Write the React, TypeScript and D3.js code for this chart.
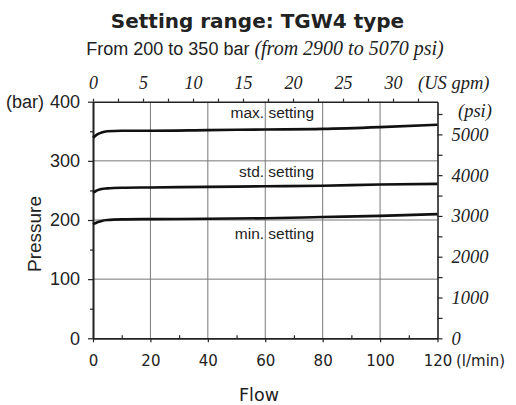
import React, { useEffect, useRef } from "react";
import * as d3 from "d3";

// flow in l/min, pressure in bar
const flow = [0, 1, 2, 3, 5, 10, 20, 40, 60, 80, 100, 120];
const maxSetting = [339, 343, 346, 348, 350, 351, 351, 352, 353, 354, 357, 361];
const stdSetting = [246, 249, 251, 252.5, 253.5, 254.5, 255, 256, 257, 258, 260, 261];
const minSetting = [193, 195, 197, 198.5, 200, 201, 201.5, 202, 203, 205, 207, 210];

const seriesNames = ["max. setting", "std. setting", "min. setting"];
const seriesValues = [maxSetting, stdSetting, minSetting];
// where the curve labels sit (flow, bar)
const labelAt = [
  [77, 372],
  [77, 272],
  [77, 168],
];

const barTicks = [0, 100, 200, 300, 400];
const barMinor = [50, 150, 250, 350];
const flowTicks = [0, 20, 40, 60, 80, 100, 120];
const flowMinor = [10, 30, 50, 70, 90, 110];
const gpmTicks = d3.range(0, 34, 2.5);
const psiTicks = d3.range(0, 5501, 500);

const BAR_TO_PSI = 14.5038;
const GPM_MAX = 34.45;

const SANS = "'Liberation Sans', Arial, sans-serif";
const VERD = "'DejaVu Sans', Verdana, sans-serif";
const SERIF = "'Liberation Serif', 'Times New Roman', serif";

const App = () => {
  const ref = useRef(null);

  useEffect(() => {
    const svg = d3.select(ref.current);
    svg.selectAll("*").remove();

    const x = d3.scaleLinear().domain([0, 120]).range([93, 437.5]);
    const y = d3.scaleLinear().domain([0, 400]).range([338.3, 101.7]);
    const gpm = d3.scaleLinear().domain([0, GPM_MAX]).range([93, 437.5]);
    const psi = d3.scaleLinear().domain([0, 400 * BAR_TO_PSI]).range([338.3, 101.7]);

    // grid
    const grid = svg.append("g").attr("stroke", "#777").attr("stroke-width", 1);
    grid
      .selectAll("line.v")
      .data(flowTicks.slice(1, -1))
      .enter()
      .append("line")
      .attr("x1", (d) => x(d))
      .attr("x2", (d) => x(d))
      .attr("y1", y(0))
      .attr("y2", y(400));
    grid
      .selectAll("line.h")
      .data(barTicks.slice(1, -1))
      .enter()
      .append("line")
      .attr("class", "h")
      .attr("x1", x(0))
      .attr("x2", x(120))
      .attr("y1", (d) => y(d))
      .attr("y2", (d) => y(d));

    const styleAxis = (g, font, size, italic) => {
      g.select(".domain").attr("stroke", "#222").attr("stroke-width", 1.6);
      g.selectAll(".tick line").attr("stroke", "#222").attr("stroke-width", 1.2);
      g.selectAll("text")
        .attr("fill", "#222")
        .style("font-family", font)
        .style("font-size", size + "px")
        .style("font-style", italic ? "italic" : "normal");
    };

    // left axis (bar)
    svg
      .append("g")
      .attr("transform", `translate(${x(0)},0)`)
      .call(d3.axisLeft(y).tickValues(barMinor).tickSize(3).tickSizeOuter(0).tickFormat(() => ""))
      .call((g) => styleAxis(g, SANS, 18, false));
    svg
      .append("g")
      .attr("transform", `translate(${x(0)},0)`)
      .call(d3.axisLeft(y).tickValues(barTicks).tickSize(5).tickSizeOuter(0).tickPadding(8))
      .call((g) => styleAxis(g, SANS, 18, false));

    // bottom axis (l/min)
    svg
      .append("g")
      .attr("transform", `translate(0,${y(0)})`)
      .call(d3.axisBottom(x).tickValues(flowMinor).tickSize(-3).tickSizeOuter(0).tickFormat(() => ""))
      .call((g) => styleAxis(g, VERD, 15, false));
    svg
      .append("g")
      .attr("transform", `translate(0,${y(0)})`)
      .call(d3.axisBottom(x).tickValues(flowTicks).tickSize(4).tickSizeOuter(0).tickPadding(13))
      .call((g) => styleAxis(g, VERD, 15, false));

    // top axis (US gpm)
    svg
      .append("g")
      .attr("transform", `translate(0,${y(400)})`)
      .call(
        d3
          .axisTop(gpm)
          .tickValues(gpmTicks)
          .tickSize(3)
          .tickSizeOuter(0)
          .tickPadding(9.7)
          .tickFormat((d) => (d % 5 === 0 && d <= 30 ? String(d) : ""))
      )
      .call((g) => styleAxis(g, SERIF, 18, true));

    // right axis (psi)
    svg
      .append("g")
      .attr("transform", `translate(${x(120)},0)`)
      .call(
        d3
          .axisRight(psi)
          .tickValues(psiTicks)
          .tickSize(5)
          .tickSizeOuter(0)
          .tickPadding(9)
          .tickFormat((d) => (d % 1000 === 0 ? String(d) : ""))
      )
      .call((g) => styleAxis(g, SERIF, 18.5, true));

    // curves
    const line = d3
      .line()
      .x((d) => x(d[0]))
      .y((d) => y(d[1]))
      .curve(d3.curveMonotoneX);
    svg
      .selectAll("path.curve")
      .data(seriesValues)
      .enter()
      .append("path")
      .attr("class", "curve")
      .attr("d", (vals) => line(vals.map((v, i) => [flow[i], v])))
      .attr("fill", "none")
      .attr("stroke", "#111")
      .attr("stroke-width", 2.6);

    svg
      .selectAll("text.lbl")
      .data(seriesNames)
      .enter()
      .append("text")
      .attr("class", "lbl")
      .attr("x", (d, i) => x(labelAt[i][0]))
      .attr("y", (d, i) => y(labelAt[i][1]))
      .attr("text-anchor", "end")
      .style("font-family", SANS)
      .style("font-size", "15.5px")
      .attr("fill", "#222")
      .text((d) => d);

    // unit labels
    const unit = (tx, ty, txt, font, size, italic) =>
      svg
        .append("text")
        .attr("x", tx)
        .attr("y", ty)
        .attr("fill", "#222")
        .style("font-family", font)
        .style("font-size", size + "px")
        .style("font-style", italic ? "italic" : "normal")
        .text(txt);
    unit(6, y(400) + 6.3, "(bar)", SANS, 18, false);
    unit(456, 366, "(l/min)", VERD, 15, false);
    unit(418, 89, "(US gpm)", SERIF, 18.5, true);
    unit(458, 117, "(psi)", SERIF, 18.5, true);

    // axis titles
    svg
      .append("text")
      .attr("transform", `translate(41,234) rotate(-90)`)
      .attr("text-anchor", "middle")
      .attr("fill", "#222")
      .style("font-family", SANS)
      .style("font-size", "19px")
      .text("Pressure");
    svg
      .append("text")
      .attr("x", 259)
      .attr("y", 401)
      .attr("text-anchor", "middle")
      .attr("fill", "#222")
      .style("font-family", VERD)
      .style("font-size", "17.5px")
      .text("Flow");

    // title + subtitle
    svg
      .append("text")
      .attr("x", 257.5)
      .attr("y", 28)
      .attr("text-anchor", "middle")
      .attr("fill", "#222")
      .style("font-family", VERD)
      .style("font-weight", "bold")
      .style("font-size", "20px")
      .text("Setting range: TGW4 type");
    const sub = svg
      .append("text")
      .attr("x", 265)
      .attr("y", 55)
      .attr("text-anchor", "middle")
      .attr("fill", "#222");
    sub.append("tspan").style("font-family", SANS).style("font-size", "18px").text("From 200 to 350 bar ");
    sub
      .append("tspan")
      .style("font-family", SERIF)
      .style("font-style", "italic")
      .style("font-size", "20px")
      .text("(from 2900 to 5070 psi)");

    return () => {
      svg.selectAll("*").remove();
    };
  }, []);

  return (
    <svg
      ref={ref}
      width={516}
      height={405}
      style={{ position: "absolute", left: 0, top: 0, background: "#fff" }}
    />
  );
};

export default App;
